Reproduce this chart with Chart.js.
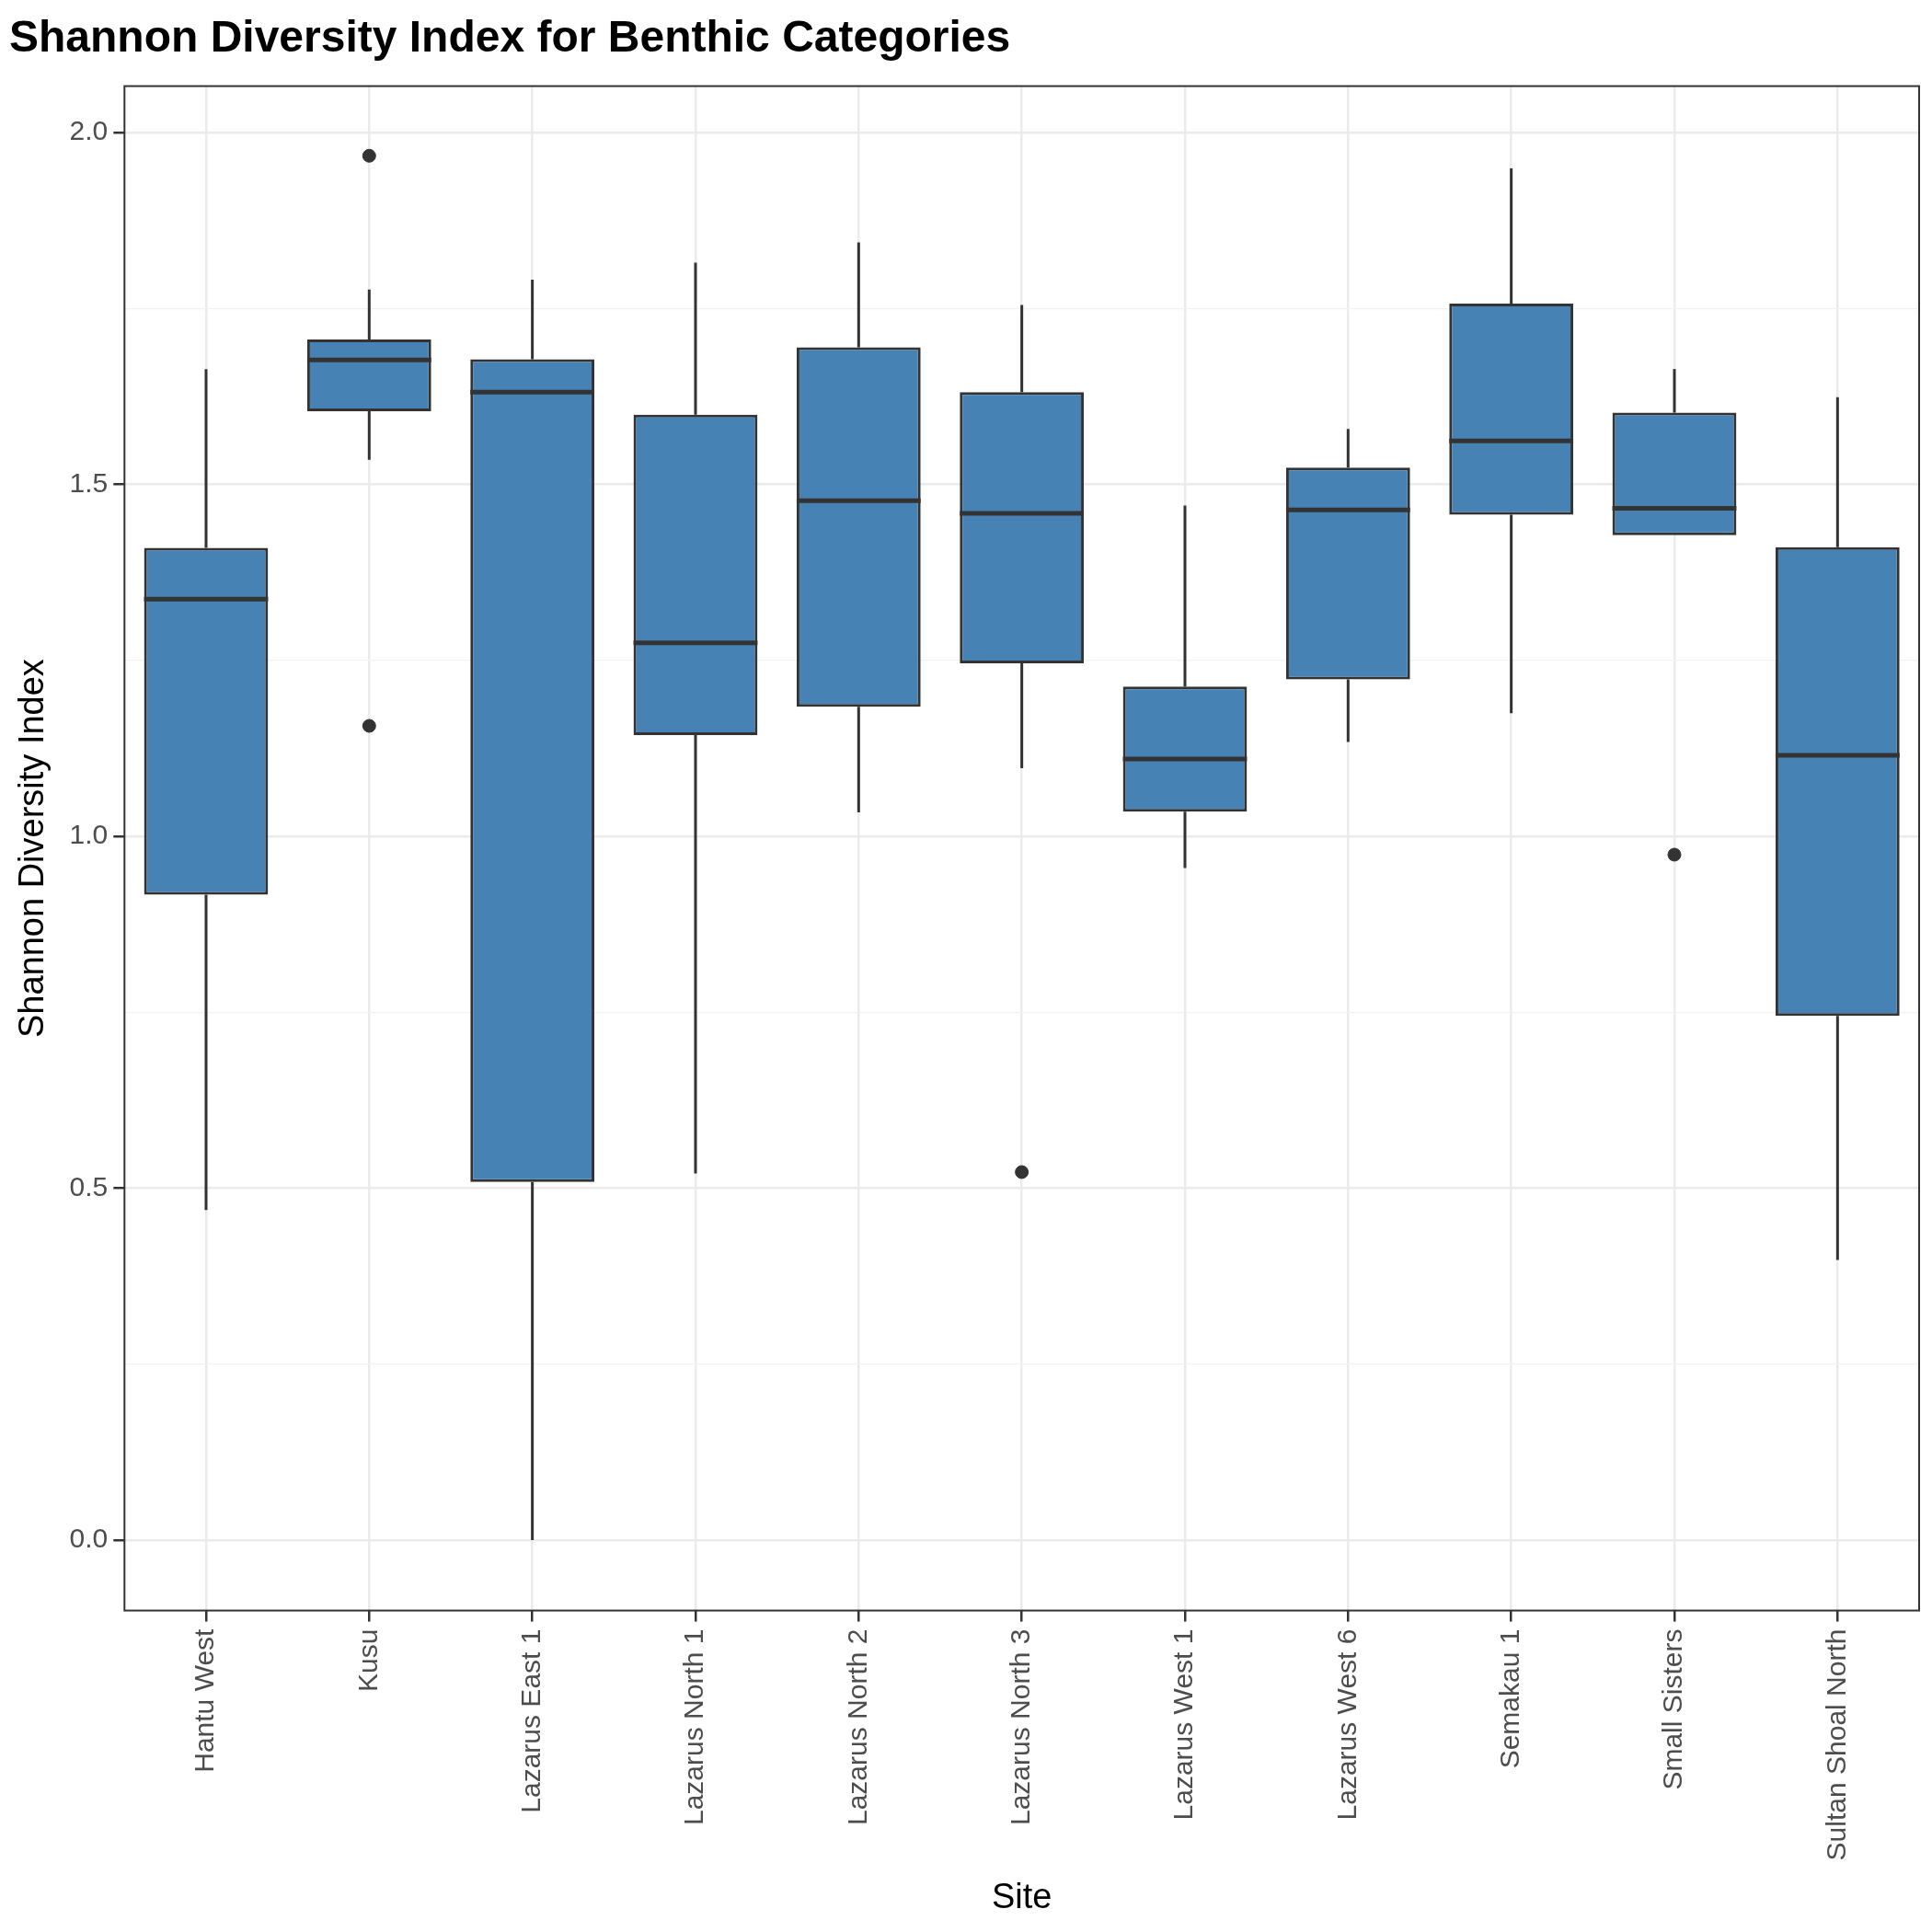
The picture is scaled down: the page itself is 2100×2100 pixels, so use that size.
<!DOCTYPE html>
<html>
<head>
<meta charset="utf-8">
<script src="https://cdn.jsdelivr.net/npm/chart.js@4/dist/chart.umd.min.js"></script>
<style>
  body { margin: 0; background: #fff; }
  #wrap { width: 2100px; height: 2100px; }
</style>
</head>
<body>
<div id="wrap"><canvas id="chart"></canvas></div>
<script>
const sites = ["Hantu West", "Kusu", "Lazarus East 1", "Lazarus North 1", "Lazarus North 2",
    "Lazarus North 3", "Lazarus West 1", "Lazarus West 6", "Semakau 1", "Small Sisters", "Sultan Shoal North"];

const whiskerLow = [0.469, 1.535, 0.0, 0.521, 1.034, 1.097, 0.955, 1.134, 1.175, 1.428, 0.398];
const q1 = [0.917, 1.604, 0.509, 1.144, 1.184, 1.246, 1.035, 1.223, 1.457, 1.428, 0.745];
const median = [1.337, 1.677, 1.631, 1.275, 1.477, 1.459, 1.110, 1.464, 1.562, 1.466, 1.115];
const q3 = [1.410, 1.706, 1.678, 1.599, 1.695, 1.631, 1.213, 1.524, 1.757, 1.602, 1.411];
const whiskerHigh = [1.664, 1.777, 1.791, 1.815, 1.844, 1.755, 1.470, 1.579, 1.949, 1.664, 1.624];

const outlierSites = ["Kusu", "Kusu", "Lazarus North 3", "Small Sisters"];
const outlierValues = [1.967, 1.157, 0.523, 0.974];

const yTicks = [0, 0.5, 1.0, 1.5, 2.0];

const ink = "#333333";

const boxPlugin = {
    id: "boxParts",
    beforeDatasetsDraw(chart) {
        const { ctx, scales: { x, y } } = chart;
        ctx.save();
        ctx.strokeStyle = ink;
        ctx.lineWidth = 3;
        sites.forEach((s, i) => {
            const px = x.getPixelForValue(i);
            ctx.beginPath();
            ctx.moveTo(px, y.getPixelForValue(whiskerLow[i]));
            ctx.lineTo(px, y.getPixelForValue(q1[i]));
            ctx.moveTo(px, y.getPixelForValue(q3[i]));
            ctx.lineTo(px, y.getPixelForValue(whiskerHigh[i]));
            ctx.stroke();
        });
        ctx.restore();
    },
    afterDatasetsDraw(chart) {
        const { ctx, scales: { x, y }, chartArea } = chart;
        const meta = chart.getDatasetMeta(0);
        ctx.save();
        ctx.strokeStyle = ink;
        ctx.lineWidth = 5;
        meta.data.forEach((bar, i) => {
            const half = bar.width / 2;
            const py = y.getPixelForValue(median[i]);
            ctx.beginPath();
            ctx.moveTo(bar.x - half, py);
            ctx.lineTo(bar.x + half, py);
            ctx.stroke();
        });
        ctx.lineWidth = 2;
        ctx.strokeRect(chartArea.left, chartArea.top, chartArea.right - chartArea.left, chartArea.bottom - chartArea.top);
        ctx.restore();
    }
};

new Chart(document.getElementById("chart"), {
    type: "bar",
    data: {
        labels: sites,
        datasets: [
            {
                data: sites.map((s, i) => [q1[i], q3[i]]),
                backgroundColor: "#4682B4",
                borderColor: ink,
                borderWidth: 3,
                borderSkipped: false,
                barPercentage: 0.76,
                categoryPercentage: 1
            },
            {
                type: "line",
                data: outlierSites.map((s, i) => ({ x: s, y: outlierValues[i] })),
                showLine: false,
                pointRadius: 7,
                pointBackgroundColor: ink,
                pointBorderColor: ink
            }
        ]
    },
    options: {
        responsive: true,
        maintainAspectRatio: false,
        devicePixelRatio: 1,
        animation: false,
        layout: { padding: { left: 10, right: 14, top: 0, bottom: 10 } },
        plugins: {
            legend: { display: false },
            tooltip: { enabled: false },
            title: {
                display: true,
                text: "Shannon Diversity Index for Benthic Categories",
                align: "start",
                color: "#000",
                font: { family: "Liberation Sans, Arial", size: 48 },
                padding: { top: 14, bottom: 22 }
            }
        },
        scales: {
            x: {
                offset: true,
                grid: { color: "#EBEBEB", lineWidth: 2.5, offset: false, tickColor: ink, tickLength: 12 },
                border: { display: false },
                ticks: {
                    color: "#4D4D4D",
                    minRotation: 90,
                    maxRotation: 90,
                    padding: 8,
                    font: { family: "Liberation Sans, Arial", size: 30 }
                },
                title: {
                    display: true, text: "Site", color: "#000",
                    font: { family: "Liberation Sans, Arial", size: 38 }, padding: { top: 10 }
                }
            },
            y: {
                min: -0.1,
                max: 2.066,
                afterBuildTicks(axis) {
                    axis.ticks = [0, 0.25, 0.5, 0.75, 1, 1.25, 1.5, 1.75, 2].map(v => ({ value: v }));
                },
                grid: {
                    color: c => yTicks.includes(c.tick.value) ? "#EBEBEB" : "#F2F2F2",
                    lineWidth: c => yTicks.includes(c.tick.value) ? 2.5 : 1.3,
                    tickColor: c => yTicks.includes(c.tick.value) ? ink : "rgba(0,0,0,0)",
                    tickLength: 12
                },
                border: { display: false },
                ticks: {
                    color: "#4D4D4D",
                    padding: 6,
                    font: { family: "Liberation Sans, Arial", size: 30 },
                    callback: v => yTicks.includes(v) ? v.toFixed(1) : ""
                },
                title: {
                    display: true, text: "Shannon Diversity Index", color: "#000",
                    font: { family: "Liberation Sans, Arial", size: 38 }, padding: { bottom: 10 }
                }
            }
        }
    },
    plugins: [boxPlugin]
});
</script>
</body>
</html>
